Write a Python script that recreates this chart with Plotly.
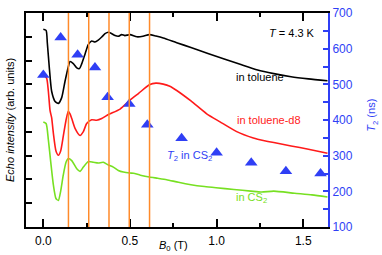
import plotly.graph_objects as go

# ---- data ----
b_toluene = [0.0, 0.016, 0.023, 0.035, 0.048, 0.068, 0.087, 0.106, 0.125, 0.144, 0.154, 0.173, 0.193, 0.208,
             0.222, 0.241, 0.26, 0.279, 0.298, 0.317, 0.337, 0.356, 0.375, 0.395, 0.414, 0.433, 0.452, 0.471,
             0.50, 0.54, 0.575, 0.612, 0.65, 0.692, 0.77, 0.852, 0.95, 1.044, 1.14, 1.237, 1.33, 1.43, 1.53, 1.64]
i_toluene = [8.32, 8.27, 7.75, 6.66, 5.71, 5.28, 5.20, 5.44, 6.12, 6.73, 6.96, 6.87, 6.69, 6.66,
             6.87, 7.28, 7.68, 7.82, 7.78, 7.86, 7.99, 8.13, 8.19, 8.13, 8.05, 8.02, 8.09, 8.05,
             8.09, 8.00, 8.02, 8.09, 8.03, 7.95, 7.75, 7.55, 7.30, 7.07, 6.83, 6.60, 6.45, 6.32, 6.23, 6.15]

b_d8 = [0.0, 0.019, 0.029, 0.039, 0.048, 0.058, 0.073, 0.087, 0.10, 0.115, 0.131, 0.144, 0.154, 0.164,
        0.183, 0.212, 0.231, 0.25, 0.279, 0.308, 0.337, 0.366, 0.385, 0.443, 0.50, 0.55, 0.612, 0.65,
        0.692, 0.73, 0.77, 0.852, 0.943, 1.02, 1.116, 1.212, 1.237, 1.33, 1.43, 1.53, 1.64]
i_d8 = [6.42, 6.26, 5.71, 4.89, 4.60, 3.94, 3.20, 3.02, 3.20, 3.81, 4.49, 4.87, 4.76, 4.56,
        4.15, 3.85, 4.01, 4.35, 4.51, 4.49, 4.56, 4.69, 4.76, 4.96, 5.33, 5.62, 5.98, 6.05,
        6.01, 5.92, 5.74, 5.30, 4.76, 4.42, 4.01, 3.74, 3.69, 3.55, 3.41, 3.27, 3.10]

b_cs2 = [0.0, 0.016, 0.029, 0.043, 0.058, 0.073, 0.087, 0.10, 0.115, 0.131, 0.144, 0.164, 0.193, 0.212,
         0.231, 0.26, 0.289, 0.317, 0.346, 0.375, 0.404, 0.433, 0.462, 0.50, 0.52, 0.56, 0.612, 0.66,
         0.712, 0.78, 0.852, 0.93, 0.997, 1.1, 1.198, 1.26, 1.33, 1.45, 1.55, 1.64]
i_cs2 = [4.42, 4.35, 3.67, 2.72, 1.77, 1.20, 1.12, 1.50, 2.18, 2.72, 2.88, 2.79, 2.45, 2.34,
         2.52, 2.75, 2.72, 2.69, 2.72, 2.61, 2.52, 2.38, 2.31, 2.27, 2.26, 2.18, 2.10, 2.05,
         1.99, 1.88, 1.78, 1.70, 1.65, 1.58, 1.51, 1.47, 1.51, 1.42, 1.35, 1.26]

b_t2 = [0.0, 0.1, 0.198, 0.298, 0.371, 0.496, 0.60, 0.798, 1.0, 1.2, 1.4, 1.6]
t2_ns = [526, 631, 583, 547, 464, 445, 387, 349, 308, 280, 256, 250]

b_resonances = [0.145, 0.262, 0.379, 0.496, 0.613]

x_ticks = [0.0, 0.5, 1.0, 1.5]
x_ticklabels = ["0.0", "0.5", "1.0", "1.5"]
t2_ticks = [100, 200, 300, 400, 500, 600, 700]

# ---- styles ----
FONT = "Liberation Sans, Arial, sans-serif"
BLUE = "#2f3ff5"
ORANGE = "#ff8a2a"
BLACK = "#000000"
RED = "#ff1a1a"
GREEN = "#77e022"

fig = go.Figure()

line_kw = dict(mode="lines", line_shape="spline", hoverinfo="skip", showlegend=False)
fig.add_trace(go.Scatter(x=b_toluene, y=i_toluene, line=dict(color=BLACK, width=1.6, smoothing=0.6), **line_kw))
fig.add_trace(go.Scatter(x=b_d8, y=i_d8, line=dict(color=RED, width=1.6, smoothing=0.6), **line_kw))
fig.add_trace(go.Scatter(x=b_cs2, y=i_cs2, line=dict(color=GREEN, width=1.6, smoothing=0.6), **line_kw))
fig.add_trace(go.Scatter(x=b_t2, y=t2_ns, yaxis="y2", mode="markers", showlegend=False,
                         marker=dict(symbol="triangle-up", size=11, color=BLUE)))

for b in b_resonances:
    fig.add_shape(type="line", x0=b, x1=b, xref="x", y0=0, y1=1, yref="paper",
                  line=dict(color=ORANGE, width=1.5), layer="above")

ann_font = dict(family=FONT, size=11)
fig.add_annotation(x=1.58, y=8.16, xref="x", yref="y", text="<i>T</i> = 4.3 K", showarrow=False,
                   xanchor="right", yanchor="middle", font=dict(ann_font, color=BLACK))
fig.add_annotation(x=1.10, y=6.31, xref="x", yref="y", text="in toluene", showarrow=False,
                   xanchor="left", yanchor="middle", font=dict(ann_font, color=BLACK))
fig.add_annotation(x=1.108, y=4.51, xref="x", yref="y", text="in toluene-d8", showarrow=False,
                   xanchor="left", yanchor="middle", font=dict(ann_font, color=RED))
fig.add_annotation(x=0.70, y=3.0, xref="x", yref="y", text="<i>T</i><sub>2</sub> in CS<sub>2</sub>",
                   showarrow=False, xanchor="left", yanchor="middle", font=dict(ann_font, color=BLUE))
fig.add_annotation(x=1.102, y=1.2, xref="x", yref="y", text="in CS<sub>2</sub>", showarrow=False,
                   xanchor="left", yanchor="middle", font=dict(ann_font, color=GREEN))
fig.add_annotation(x=0.75, y=0, xref="x", yref="paper", yshift=-19, text="<i>B</i><sub>0</sub> (T)",
                   showarrow=False, xanchor="center", yanchor="middle", font=dict(ann_font, color=BLACK))
fig.add_annotation(x=0, y=0.5, xref="paper", yref="paper", xshift=-16, textangle=-90,
                   text="<i>Echo intensity</i> (arb. units)", showarrow=False,
                   xanchor="center", yanchor="middle", font=dict(ann_font, color=BLACK))
fig.add_annotation(x=1, y=0.52, xref="paper", yref="paper", xshift=44, textangle=-90,
                   text="<i>T</i><sub>2</sub> (ns)", showarrow=False,
                   xanchor="center", yanchor="middle", font=dict(ann_font, color=BLUE))

fig.update_layout(
    width=382, height=255,
    margin=dict(l=26, r=54, t=6, b=28),
    paper_bgcolor="white", plot_bgcolor="white",
    font=dict(family=FONT, size=12, color=BLACK),
    xaxis=dict(range=[-0.1, 1.643], tickvals=x_ticks, ticktext=x_ticklabels,
               ticks="inside", ticklen=8, tickwidth=1.5, tickcolor=BLACK, ticklabelstandoff=2,
               minor=dict(dtick=0.25, tick0=0, ticks="inside", ticklen=4, tickwidth=1.5, tickcolor=BLACK),
               showline=True, linecolor=BLACK, linewidth=2, mirror="ticks",
               showgrid=False, zeroline=False, tickfont=dict(size=12)),
    yaxis=dict(range=[0, 9], tickvals=[1, 2, 3, 4, 5, 6, 7, 8], showticklabels=False,
               ticks="inside", ticklen=6, tickwidth=1.5, tickcolor=BLACK,
               showline=True, linecolor=BLACK, linewidth=2, showgrid=False, zeroline=False),
    yaxis2=dict(range=[100, 700], overlaying="y", side="right", anchor="x", tickvals=t2_ticks,
                ticks="inside", ticklen=5, tickwidth=1.5, tickcolor=BLUE,
                minor=dict(dtick=50, tick0=100, ticks="inside", ticklen=5, tickwidth=1.5, tickcolor=BLUE),
                showline=True, linecolor=BLUE, linewidth=2, showgrid=False, zeroline=False,
                tickfont=dict(color=BLUE, size=12)),
)

fig.write_html("out.html", config={"displayModeBar": False},
               post_script="document.body.style.margin='0';document.body.style.overflow='hidden';")
